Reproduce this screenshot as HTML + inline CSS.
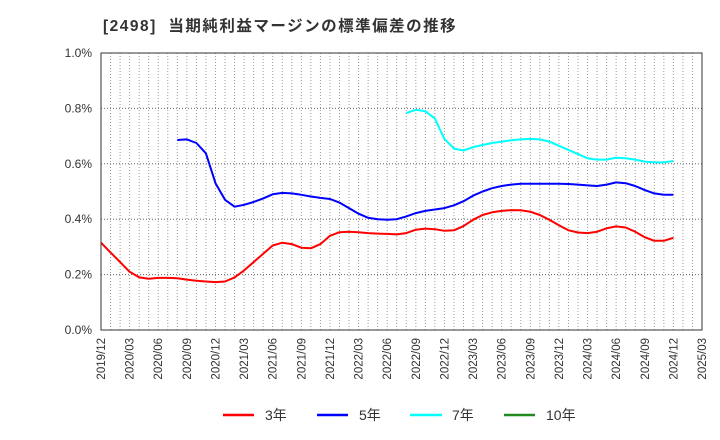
<!DOCTYPE html>
<html><head><meta charset="utf-8"><style>
body{margin:0;background:#fff;}
svg{display:block;font-family:"Liberation Sans","Noto Sans CJK JP",sans-serif;}
</style></head><body>
<svg id="chart" width="720" height="440" viewBox="0 0 720 440">
<text x="103" y="31" font-size="15.5" font-weight="bold" fill="#333" letter-spacing="1.5" xml:space="preserve">[2498]  当期純利益マージンの標準偏差の推移</text>
<g id="grid"></g>
<g id="series"></g>
<rect x="101" y="53" width="601" height="277" fill="none" stroke="#333" stroke-width="1"/>
<g id="axes"></g>
<g>
<line x1="223" y1="415" x2="254" y2="415" stroke="#f00" stroke-width="2.5"/>
<text x="265" y="420" font-size="14" fill="#333">3年</text>
<line x1="317" y1="415" x2="348" y2="415" stroke="#00f" stroke-width="2.5"/>
<text x="359" y="420" font-size="14" fill="#333">5年</text>
<line x1="410" y1="415" x2="442" y2="415" stroke="#0ff" stroke-width="2.5"/>
<text x="452" y="420" font-size="14" fill="#333">7年</text>
<line x1="504" y1="415" x2="535" y2="415" stroke="#228b22" stroke-width="2.5"/>
<text x="546" y="420" font-size="14" fill="#333">10年</text>
</g>
</svg>
<script>
const xLabels=["2019/12","2020/03","2020/06","2020/09","2020/12","2021/03","2021/06","2021/09","2021/12","2022/03","2022/06","2022/09","2022/12","2023/03","2023/06","2023/09","2023/12","2024/03","2024/06","2024/09","2024/12","2025/03"];
const yTicks=[0,0.2,0.4,0.6,0.8,1.0];
const yTickLabels=["0.0%","0.2%","0.4%","0.6%","0.8%","1.0%"];
const s3Start=0;
const s3=[.315,.28,.245,.21,.19,.185,.188,.188,.187,.182,.178,.175,.173,.175,.19,.215,.245,.275,.305,.315,.31,.297,.295,.31,.34,.353,.355,.353,.35,.348,.347,.345,.35,.362,.366,.364,.358,.36,.375,.398,.415,.425,.43,.433,.432,.427,.415,.398,.378,.36,.352,.35,.355,.367,.374,.37,.355,.335,.322,.322,.333];
const s5Start=8;
const s5=[.686,.688,.675,.638,.53,.47,.445,.452,.462,.475,.49,.495,.493,.488,.482,.477,.473,.46,.44,.42,.405,.4,.398,.4,.41,.422,.43,.435,.44,.45,.465,.485,.5,.512,.52,.525,.528,.528,.528,.528,.528,.527,.525,.522,.52,.525,.533,.53,.52,.505,.493,.488,.488];
const s7Start=32;
const s7=[.783,.795,.79,.763,.69,.655,.648,.66,.668,.675,.68,.685,.688,.69,.688,.68,.665,.65,.635,.62,.615,.615,.622,.62,.615,.608,.605,.605,.61];
const X0=101,X1=702,Y0=330,Y1=53,NM=63;
const xs=i=>X0+(X1-X0)*i/NM;
const ys=v=>Y0-(Y0-Y1)*v/1.0;
const NS="http://www.w3.org/2000/svg";
const grid=document.getElementById('grid'),axes=document.getElementById('axes'),ser=document.getElementById('series');
for(let m=1;m<NM;m++){
 const l=document.createElementNS(NS,'line');
 
 
 l.setAttribute('x1',xs(m));l.setAttribute('x2',xs(m));l.setAttribute('y1',Y1);l.setAttribute('y2',Y0);
 l.setAttribute('stroke','#999');l.setAttribute('stroke-width','1');l.setAttribute('stroke-dasharray','1,2');
 grid.appendChild(l);
}
yTicks.forEach((v,i)=>{
 if(v>0&&v<1){
 const l=document.createElementNS(NS,'line');
 
 
 l.setAttribute('x1',X0);l.setAttribute('x2',X1);l.setAttribute('y1',ys(v));l.setAttribute('y2',ys(v));
 l.setAttribute('stroke','#666');l.setAttribute('stroke-width','1');l.setAttribute('stroke-dasharray','1,2');
 grid.appendChild(l);}
 const t=document.createElementNS(NS,'text');
 
 
 t.setAttribute('x',92);t.setAttribute('y',ys(v)+4);t.setAttribute('text-anchor','end');
 t.setAttribute('font-size','12');t.setAttribute('fill','#333');t.textContent=yTickLabels[i];
 axes.appendChild(t);
});
xLabels.forEach((s,i)=>{
 const x=xs(i*3);
 const t=document.createElementNS(NS,'text');
 
 
 t.setAttribute('transform','translate('+(x+4)+',338) rotate(-90)');
 t.setAttribute('text-anchor','end');t.setAttribute('font-size','11.5');t.setAttribute('fill','#333');
 t.textContent=s;axes.appendChild(t);
});
function draw(arr,start,color,name){
 const p=document.createElementNS(NS,'polyline');
 
 
 p.setAttribute('points',arr.map((v,i)=>xs(start+i).toFixed(1)+','+ys(v).toFixed(1)).join(' '));
 p.setAttribute('fill','none');p.setAttribute('stroke',color);p.setAttribute('stroke-width','2');
 p.setAttribute('stroke-linejoin','round');
 ser.appendChild(p);
}
draw(s3,s3Start,'#f00','series-3y');
draw(s5,s5Start,'#00f','series-5y');
draw(s7,s7Start,'#0ff','series-7y');
</script>
</body></html>
